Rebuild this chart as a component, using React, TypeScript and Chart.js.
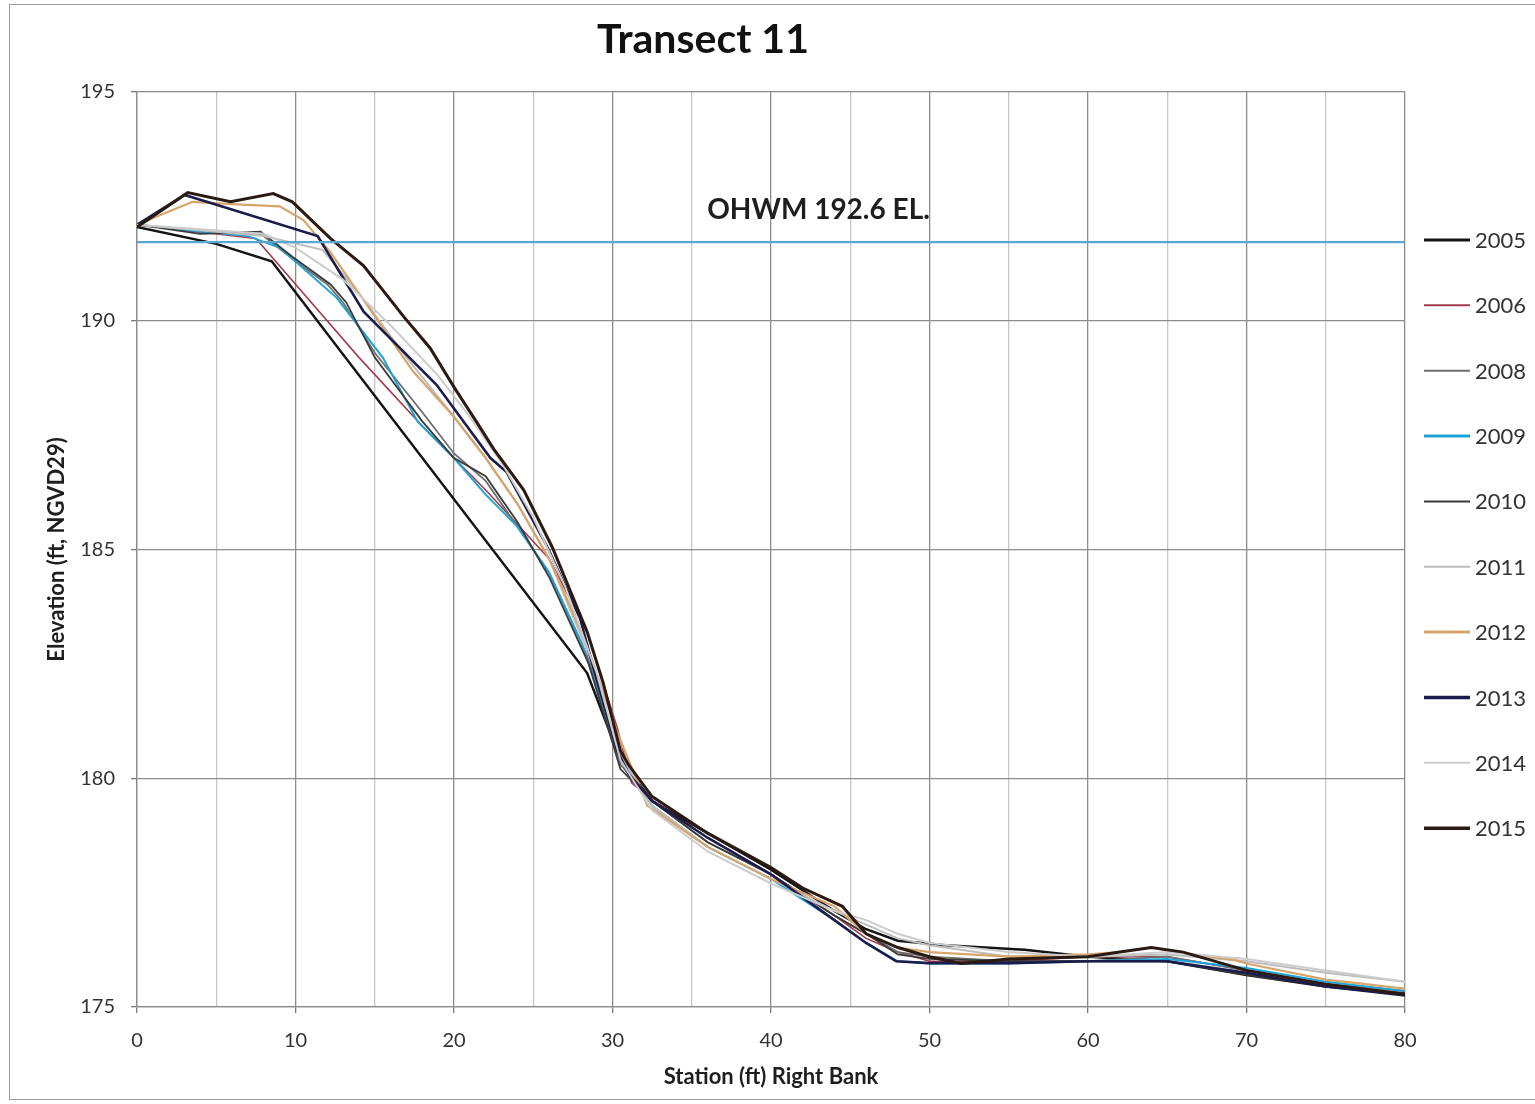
import React, { useEffect, useRef } from "react";
import { Chart, registerables } from "chart.js";

Chart.register(...registerables);

// ---------- text ----------
const titleText = "Transect 11";
const xAxisTitle = "Station (ft) Right Bank";
const yAxisTitle = "Elevation (ft, NGVD29)";
const ohwmLabel = "OHWM 192.6 EL.";

// ---------- axes ----------
const xMin = 0;
const xMax = 80;
const xGridStep = 5;
const xLabelStep = 10;
const yMin = 175;
const yMax = 195;
const yStep = 5;

// ---------- OHWM reference line ----------
const ohwmStations = [0, 80];
const ohwmElevations = [191.72, 191.72];
const ohwmLabelStation = 43;
const ohwmLabelElevation = 192.42;

// ---------- survey years ----------
const years = ["2005", "2006", "2008", "2009", "2010", "2011", "2012", "2013", "2014", "2015"];

const st2005 = [0, 5, 8.5, 28.4, 30.5, 32.5, 36, 40, 44, 46, 48, 51, 56, 60, 65, 70, 75, 80];
const el2005 = [192.05, 191.68, 191.3, 182.3, 180.4, 179.5, 178.8, 178.0, 177.1, 176.7, 176.45, 176.35, 176.25, 176.1, 176.0, 175.7, 175.45, 175.28];

const st2006 = [0, 7.5, 10, 14, 18, 22, 26, 28.4, 30.3, 31.2, 32.6, 36, 40, 44, 46, 48, 50, 55, 60, 65, 70, 75, 80];
const el2006 = [192.1, 191.8, 190.8, 189.2, 187.7, 186.3, 184.8, 183.2, 181.1, 179.9, 179.5, 178.7, 177.9, 177.0, 176.5, 176.2, 176.0, 176.0, 176.1, 176.1, 175.8, 175.5, 175.3];

const st2008 = [0, 4, 7.8, 10, 12, 13, 15, 18, 20, 22, 24, 26, 28.5, 30.5, 32.5, 36, 40, 44, 46, 48, 50, 55, 60, 65, 70, 75, 80];
const el2008 = [192.1, 191.95, 191.9, 191.3, 190.8, 190.4, 189.3, 188.0, 187.1, 186.5, 185.5, 184.5, 182.6, 180.3, 179.5, 178.6, 177.9, 177.0, 176.6, 176.2, 176.1, 176.0, 176.0, 176.1, 175.8, 175.5, 175.35];

const st2009 = [0, 4, 7, 9, 12.6, 15.5, 17.7, 20, 22, 24, 26, 28, 30, 31, 32.5, 36, 40, 44, 46, 48, 50, 55, 60, 65, 70, 75, 80];
const el2009 = [192.1, 191.95, 191.85, 191.6, 190.5, 189.2, 187.8, 187.0, 186.2, 185.5, 184.5, 183.0, 181.0, 180.2, 179.4, 178.5, 177.8, 176.9, 176.4, 176.0, 175.95, 175.95, 176.0, 176.05, 175.85, 175.55, 175.35];

const st2010 = [0, 4, 7.8, 9.8, 12.2, 13.2, 15, 18, 20, 22, 24, 26, 28.5, 30.5, 32.5, 36, 40, 44, 46, 48, 50, 55, 60, 65, 70, 75, 80];
const el2010 = [192.1, 191.9, 191.95, 191.4, 190.8, 190.4, 189.2, 187.8, 187.0, 186.6, 185.6, 184.4, 182.5, 180.2, 179.5, 178.6, 177.9, 177.0, 176.6, 176.15, 176.05, 176.0, 176.0, 176.0, 175.7, 175.45, 175.3];

const st2011 = [0, 8, 11.7, 14, 17, 20, 22, 24, 26, 28.5, 30.5, 32.5, 36, 40, 44, 46, 48, 50, 55, 60, 65, 70, 75, 80];
const el2011 = [192.1, 191.85, 191.55, 190.6, 189.2, 187.9, 187.0, 186.0, 184.8, 182.7, 180.5, 179.4, 178.5, 177.8, 177.1, 176.8, 176.5, 176.35, 176.1, 176.1, 176.15, 176.0, 175.75, 175.55];

const st2012 = [0, 3.5, 6, 9, 10.5, 12.2, 15, 17.4, 20, 22, 24, 26, 28.3, 30.3, 32.2, 36, 40, 44, 46, 48, 50, 55, 60, 62, 64, 65.6, 69.2, 70, 75, 80];
const el2012 = [192.1, 192.6, 192.55, 192.5, 192.2, 191.5, 190.1, 188.9, 187.9, 187.0, 186.0, 184.8, 183.0, 181.0, 179.4, 178.5, 177.8, 177.2, 176.6, 176.3, 176.2, 176.1, 176.15, 176.2, 176.3, 176.2, 176.03, 175.95, 175.6, 175.4];

const st2013 = [0, 3, 4.4, 11.4, 14.3, 18.9, 20.6, 22.3, 23.3, 25.9, 27.95, 28.8, 30.3, 31, 32.5, 36, 40, 44, 46, 47.9, 50, 55, 60, 65, 70, 75, 80];
const el2013 = [192.1, 192.75, 192.6, 191.85, 190.2, 188.6, 187.8, 187.0, 186.7, 185.05, 183.5, 182.4, 180.6, 180.1, 179.5, 178.7, 177.9, 176.9, 176.4, 176.0, 175.96, 175.96, 176.0, 176.0, 175.75, 175.45, 175.25];

const st2014 = [0, 6, 8, 10, 13, 16, 19, 21, 23, 25, 27, 29, 30.5, 32.5, 36, 40, 44, 46, 48, 50, 55, 60, 65, 70, 75, 80];
const el2014 = [192.1, 191.95, 191.9, 191.6, 190.9, 189.9, 188.8, 187.9, 186.9, 185.7, 184.2, 182.3, 180.4, 179.3, 178.4, 177.7, 177.1, 176.9, 176.6, 176.4, 176.2, 176.1, 176.2, 176.05, 175.8, 175.55];

const st2015 = [0, 3.2, 5.9, 8.6, 9.8, 12.2, 14.3, 16.8, 18.5, 20, 21.4, 22.5, 24.4, 26.2, 28.4, 29.4, 30.5, 31, 32.5, 36, 40, 42, 44.5, 46, 48, 50, 52, 55, 60, 62, 64, 66, 70, 75, 80];
const el2015 = [192.05, 192.8, 192.6, 192.78, 192.6, 191.8, 191.2, 190.1, 189.4, 188.55, 187.8, 187.2, 186.3, 185.05, 183.2, 182.1, 180.6, 180.3, 179.6, 178.8, 178.05, 177.6, 177.2, 176.6, 176.3, 176.1, 175.95, 176.05, 176.1, 176.2, 176.3, 176.2, 175.8, 175.5, 175.28];

const seriesStations = [st2005, st2006, st2008, st2009, st2010, st2011, st2012, st2013, st2014, st2015];
const seriesElevations = [el2005, el2006, el2008, el2009, el2010, el2011, el2012, el2013, el2014, el2015];

// ---------- styles ----------
const seriesColors = ["#141414", "#a23a4c", "#6e6e6e", "#1ea3d6", "#3a3a3a", "#bdbdbd", "#d8a46c", "#1c1c4c", "#cccccc", "#2a1a12"];
const seriesWidths = [2.5, 1.6, 1.8, 2, 1.8, 2, 2.2, 2.6, 2, 3];
const legendWidths = [3, 2, 2, 3, 2, 2, 3, 3.5, 2, 3.5];
const ohwmColor = "#5ea6d2";
const fontFamily = "Lato, 'Open Sans', 'Noto Sans', sans-serif";

const overlayPlugin = {
  id: "overlayText",
  afterDraw(chart: any) {
    const { ctx, chartArea, scales } = chart;
    ctx.save();
    // title
    ctx.fillStyle = "#111111";
    ctx.font = `bold 41px ${fontFamily}`;
    ctx.textAlign = "center";
    ctx.textBaseline = "middle";
    ctx.fillText(titleText, 703, 40);
    // OHWM label
    ctx.font = `bold 28px ${fontFamily}`;
    ctx.fillStyle = "#1e1e1e";
    ctx.fillText(ohwmLabel, scales.x.getPixelForValue(ohwmLabelStation), scales.y.getPixelForValue(ohwmLabelElevation));
    // legend
    const lx = chartArea.right + 19;
    const ly = chartArea.top + 148;
    const step = 65.35;
    ctx.textAlign = "left";
    ctx.font = `22px ${fontFamily}`;
    years.forEach((yr, i) => {
      const y = ly + i * step;
      ctx.strokeStyle = seriesColors[i];
      ctx.lineWidth = legendWidths[i];
      ctx.beginPath();
      ctx.moveTo(lx, y);
      ctx.lineTo(lx + 46, y);
      ctx.stroke();
      ctx.fillStyle = "#333333";
      ctx.fillText(yr, lx + 51, y + 1);
    });
    ctx.restore();
  },
};

export default function App() {
  const canvasRef = useRef<HTMLCanvasElement | null>(null);

  useEffect(() => {
    if (!canvasRef.current) return;
    const datasets: any[] = years.map((yr, i) => ({
      label: yr,
      data: seriesStations[i].map((x, j) => ({ x, y: seriesElevations[i][j] })),
      borderColor: seriesColors[i],
      backgroundColor: seriesColors[i],
      borderWidth: seriesWidths[i],
      showLine: true,
      pointRadius: 0,
      pointHoverRadius: 0,
      tension: 0,
      fill: false,
      order: years.length - i,
    }));
    datasets.push({
      label: "OHWM",
      data: ohwmStations.map((x, j) => ({ x, y: ohwmElevations[j] })),
      borderColor: ohwmColor,
      backgroundColor: ohwmColor,
      borderWidth: 2.2,
      showLine: true,
      pointRadius: 0,
      fill: false,
      order: 0,
    });

    const chart = new Chart(canvasRef.current, {
      type: "scatter",
      data: { datasets },
      options: {
        animation: false,
        responsive: false,
        devicePixelRatio: 1,
        layout: { padding: { top: 92, right: 130, bottom: 0, left: 0 } },
        plugins: {
          legend: { display: false },
          title: { display: false },
          tooltip: { enabled: false },
        },
        scales: {
          x: {
            type: "linear",
            min: xMin,
            max: xMax,
            afterFit: (scale: any) => {
              scale.height = 97;
            },
            ticks: {
              stepSize: xGridStep,
              autoSkip: false,
              maxRotation: 0,
              padding: 16,
              color: "#333333",
              font: { family: fontFamily, size: 20 },
              callback: (v: any) => (Number(v) % xLabelStep === 0 ? String(v) : ""),
            },
            grid: {
              drawTicks: true,
              tickLength: 6,
              tickColor: (ctx: any) =>
                ctx.tick && ctx.tick.value % xLabelStep === 0 ? "#7a7a7a" : "rgba(0,0,0,0)",
              color: (ctx: any) =>
                ctx.tick && ctx.tick.value % xLabelStep === 0 ? "#8c8c8c" : "#c6c6c6",
              lineWidth: 1.3,
            },
            border: { color: "#8c8c8c", width: 1.3 },
            title: {
              display: true,
              text: xAxisTitle,
              color: "#1e1e1e",
              font: { family: fontFamily, size: 22, weight: "bold" },
              padding: { top: 0, bottom: 14 },
            },
          },
          y: {
            type: "linear",
            min: yMin,
            max: yMax,
            afterFit: (scale: any) => {
              scale.width = 137;
            },
            ticks: {
              stepSize: yStep,
              padding: 16,
              color: "#333333",
              font: { family: fontFamily, size: 20 },
            },
            grid: {
              drawTicks: true,
              tickLength: 6,
              tickColor: "#7a7a7a",
              color: "#8c8c8c",
              lineWidth: 1.3,
            },
            border: { color: "#8c8c8c", width: 1.3 },
            title: {
              display: true,
              text: yAxisTitle,
              color: "#1e1e1e",
              font: { family: fontFamily, size: 22, weight: "bold" },
              padding: { top: 44, bottom: 0 },
            },
          },
        },
      },
      plugins: [overlayPlugin],
    });
    return () => chart.destroy();
  }, []);

  return (
    <div style={{ position: "fixed", left: 0, top: 0, width: 1535, height: 1104, background: "#ffffff" }}>
      <div
        style={{
          position: "absolute",
          left: 9,
          top: 4,
          width: 1540,
          height: 1096,
          border: "1.5px solid #9a9a9a",
          boxSizing: "border-box",
        }}
      />
      <canvas ref={canvasRef} width={1535} height={1104} style={{ position: "absolute", left: 0, top: 0 }} />
    </div>
  );
}
